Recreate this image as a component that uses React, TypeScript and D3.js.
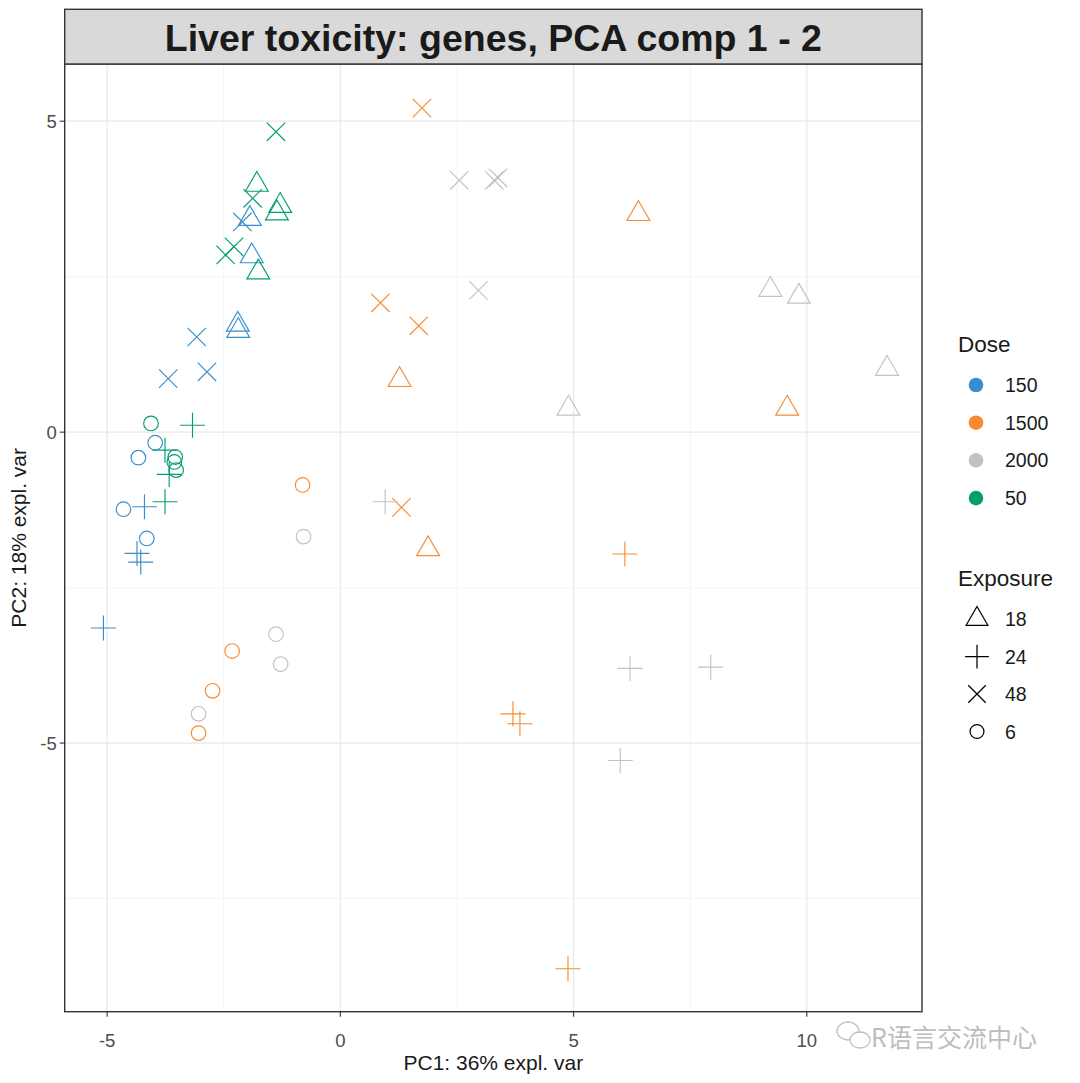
import React from "react";
import * as d3 from "d3";

// ---------- data ----------
const doseLevels = ["150", "1500", "2000", "50"];
const doseColors = ["#388ECC", "#F68B33", "#C2C2C2", "#009E73"];
const exposureLevels = ["18", "24", "48", "6"];

// each sample: [PC1, PC2]
const pc1_1500_18 = [6.39, 9.58, 1.27, 1.88];
const pc2_1500_18 = [3.51, 0.38, 0.84, -1.88];
const pc1_1500_24 = [6.1, 3.7, 3.85, 4.88];
const pc2_1500_24 = [-1.96, -4.53, -4.69, -8.63];
const pc1_1500_48 = [1.75, 0.86, 1.68, 1.31];
const pc2_1500_48 = [5.21, 2.08, 1.71, -1.21];
const pc1_1500_6 = [-0.81, -2.32, -2.74, -3.04];
const pc2_1500_6 = [-0.85, -3.52, -4.16, -4.84];

const pc1_2000_18 = [9.22, 9.83, 11.72, 4.89];
const pc2_2000_18 = [2.29, 2.18, 1.02, 0.38];
const pc1_2000_24 = [0.96, 6.21, 7.94, 6.0];
const pc2_2000_24 = [-1.12, -3.8, -3.78, -5.28];
const pc1_2000_48 = [2.55, 3.3, 3.38, 2.96];
const pc2_2000_48 = [4.05, 4.05, 4.09, 2.28];
const pc1_2000_6 = [-0.79, -1.38, -1.28, -3.04];
const pc2_2000_6 = [-1.68, -3.25, -3.73, -4.53];

const pc1_150_18 = [-2.2, -2.19, -1.9, -1.94];
const pc2_150_18 = [1.73, 1.63, 2.83, 3.43];
const pc1_150_24 = [-5.08, -4.36, -4.28, -4.2];
const pc2_150_24 = [-3.15, -1.95, -2.09, -1.2];
const pc1_150_48 = [-3.69, -3.08, -2.86, -2.1];
const pc2_150_48 = [0.86, 1.53, 0.97, 3.38];
const pc1_150_6 = [-4.65, -4.15, -4.33, -3.97];
const pc2_150_6 = [-1.24, -1.71, -0.41, -0.17];

const pc1_50_18 = [-1.79, -1.29, -1.36, -1.76];
const pc2_50_18 = [3.98, 3.64, 3.52, 2.57];
const pc1_50_24 = [-3.17, -3.76, -3.67, -3.76];
const pc2_50_24 = [0.11, -0.29, -0.68, -1.12];
const pc1_50_48 = [-1.38, -1.88, -2.28, -2.46];
const pc2_50_48 = [4.83, 3.76, 2.98, 2.85];
const pc1_50_6 = [-4.06, -3.54, -3.52, -3.56];
const pc2_50_6 = [0.14, -0.4, -0.61, -0.48];

const groups = [
  { dose: "1500", exposure: "18", x: pc1_1500_18, y: pc2_1500_18 },
  { dose: "1500", exposure: "24", x: pc1_1500_24, y: pc2_1500_24 },
  { dose: "1500", exposure: "48", x: pc1_1500_48, y: pc2_1500_48 },
  { dose: "1500", exposure: "6", x: pc1_1500_6, y: pc2_1500_6 },
  { dose: "2000", exposure: "18", x: pc1_2000_18, y: pc2_2000_18 },
  { dose: "2000", exposure: "24", x: pc1_2000_24, y: pc2_2000_24 },
  { dose: "2000", exposure: "48", x: pc1_2000_48, y: pc2_2000_48 },
  { dose: "2000", exposure: "6", x: pc1_2000_6, y: pc2_2000_6 },
  { dose: "150", exposure: "18", x: pc1_150_18, y: pc2_150_18 },
  { dose: "150", exposure: "24", x: pc1_150_24, y: pc2_150_24 },
  { dose: "150", exposure: "48", x: pc1_150_48, y: pc2_150_48 },
  { dose: "150", exposure: "6", x: pc1_150_6, y: pc2_150_6 },
  { dose: "50", exposure: "18", x: pc1_50_18, y: pc2_50_18 },
  { dose: "50", exposure: "24", x: pc1_50_24, y: pc2_50_24 },
  { dose: "50", exposure: "48", x: pc1_50_48, y: pc2_50_48 },
  { dose: "50", exposure: "6", x: pc1_50_6, y: pc2_50_6 },
];

const xTicks = [-5, 0, 5, 10];
const yTicks = [5, 0, -5];
const xMinor = [-2.5, 2.5, 7.5];
const yMinor = [2.5, -2.5, -7.5];

const title = "Liver toxicity: genes, PCA comp 1 - 2";
const xLabel = "PC1: 36% expl. var";
const yLabel = "PC2: 18% expl. var";
const watermark = "R语言交流中心";

// ---------- layout ----------
const W = 1080;
const H = 1083;
const panel = { left: 64.7, right: 922, top: 64, bottom: 1011.7 };
const stripTop = 9.3;
const FONT = "Liberation Sans, Arial, Helvetica, sans-serif";

const xScale = d3.scaleLinear().domain([-5.91, 12.47]).range([panel.left, panel.right]);
const yScale = d3.scaleLinear().domain([-9.32, 5.92]).range([panel.bottom, panel.top]);
const colorScale = d3.scaleOrdinal<string, string>().domain(doseLevels).range(doseColors);

function Marker({ shape, cx, cy, color, scale = 1, sw = 1.15 }: any) {
  if (shape === "18") {
    const r = 13.2 * scale;
    const pts = [
      [cx, cy - r],
      [cx + (r * Math.sqrt(3)) / 2, cy + r / 2],
      [cx - (r * Math.sqrt(3)) / 2, cy + r / 2],
    ];
    return <polygon points={pts.map((p) => p.join(",")).join(" ")} fill="none" stroke={color} strokeWidth={sw} />;
  }
  if (shape === "24") {
    const h = 12.5 * scale;
    return (
      <path d={`M${cx - h},${cy}H${cx + h}M${cx},${cy - h}V${cy + h}`} fill="none" stroke={color} strokeWidth={sw} />
    );
  }
  if (shape === "48") {
    const h = 9.2 * scale;
    return (
      <path
        d={`M${cx - h},${cy - h}L${cx + h},${cy + h}M${cx - h},${cy + h}L${cx + h},${cy - h}`}
        fill="none"
        stroke={color}
        strokeWidth={sw}
      />
    );
  }
  return <circle cx={cx} cy={cy} r={7.3 * scale} fill="none" stroke={color} strokeWidth={sw} />;
}

export default function App() {
  const points = groups.flatMap((g) =>
    g.x.map((v, i) => ({ dose: g.dose, exposure: g.exposure, x: v, y: g.y[i] }))
  );
  const pw = panel.right - panel.left;
  const ph = panel.bottom - panel.top;
  const cxMid = (panel.left + panel.right) / 2;

  return (
    <svg
      width={W}
      height={H}
      style={{ position: "absolute", left: 0, top: 0, background: "#fff" }}
      fontFamily={FONT}
    >
      <rect x={0} y={0} width={W} height={H} fill="#fff" />
      {/* panel grid */}
      <rect x={panel.left} y={panel.top} width={pw} height={ph} fill="#fff" />
      {xMinor.map((t) => (
        <line key={"xm" + t} x1={xScale(t)} x2={xScale(t)} y1={panel.top} y2={panel.bottom} stroke="#f2f2f2" strokeWidth={0.8} />
      ))}
      {yMinor.map((t) => (
        <line key={"ym" + t} x1={panel.left} x2={panel.right} y1={yScale(t)} y2={yScale(t)} stroke="#f2f2f2" strokeWidth={0.8} />
      ))}
      {xTicks.map((t) => (
        <line key={"xg" + t} x1={xScale(t)} x2={xScale(t)} y1={panel.top} y2={panel.bottom} stroke="#e8e8e8" strokeWidth={1.2} />
      ))}
      {yTicks.map((t) => (
        <line key={"yg" + t} x1={panel.left} x2={panel.right} y1={yScale(t)} y2={yScale(t)} stroke="#e8e8e8" strokeWidth={1.2} />
      ))}

      {/* points */}
      {points.map((p, i) => (
        <Marker key={i} shape={p.exposure} cx={xScale(p.x)} cy={yScale(p.y)} color={colorScale(p.dose)} />
      ))}

      {/* panel border */}
      <rect x={panel.left} y={panel.top} width={pw} height={ph} fill="none" stroke="#333" strokeWidth={1.4} />

      {/* strip */}
      <rect x={panel.left} y={stripTop} width={pw} height={panel.top - stripTop} fill="#d9d9d9" stroke="#333" strokeWidth={1.4} />
      <text x={cxMid} y={51} textAnchor="middle" fontSize={37.5} fontWeight="bold" fill="#1a1a1a">
        {title}
      </text>

      {/* axes ticks */}
      {xTicks.map((t) => (
        <g key={"xt" + t}>
          <line x1={xScale(t)} x2={xScale(t)} y1={panel.bottom} y2={panel.bottom + 5} stroke="#333" strokeWidth={1.1} />
          <text x={xScale(t)} y={panel.bottom + 35} textAnchor="middle" fontSize={18.5} fill="#4d4d4d">
            {t}
          </text>
        </g>
      ))}
      {yTicks.map((t) => (
        <g key={"yt" + t}>
          <line x1={panel.left - 5} x2={panel.left} y1={yScale(t)} y2={yScale(t)} stroke="#333" strokeWidth={1.1} />
          <text x={panel.left - 8} y={yScale(t) + 6.5} textAnchor="end" fontSize={18.5} fill="#4d4d4d">
            {t}
          </text>
        </g>
      ))}
      <text x={cxMid} y={1070} textAnchor="middle" fontSize={21} fill="#1a1a1a">
        {xLabel}
      </text>
      <text
        transform={`translate(26,${(panel.top + panel.bottom) / 2}) rotate(-90)`}
        textAnchor="middle"
        fontSize={21}
        fill="#1a1a1a"
      >
        {yLabel}
      </text>

      {/* legend: Dose */}
      <text x={958} y={352} fontSize={22.5} fill="#1a1a1a">
        Dose
      </text>
      {doseLevels.map((d, i) => (
        <g key={"ld" + d}>
          <circle cx={976} cy={385 + i * 37.7} r={7.3} fill={colorScale(d)} />
          <text x={1005} y={385 + i * 37.7 + 7} fontSize={19.5} fill="#1a1a1a">
            {d}
          </text>
        </g>
      ))}

      {/* legend: Exposure */}
      <text x={958} y={586} fontSize={22.5} fill="#1a1a1a">
        Exposure
      </text>
      {exposureLevels.map((e, i) => (
        <g key={"le" + e}>
          <Marker shape={e} cx={977} cy={619 + i * 37.5} color="#000" scale={0.95} sw={1.25} />
          <text x={1005} y={619 + i * 37.5 + 7} fontSize={19.5} fill="#1a1a1a">
            {e}
          </text>
        </g>
      ))}

      {/* watermark */}
      <g opacity={0.75}>
        <ellipse cx={848} cy={1031} rx={11} ry={9} fill="none" stroke="#aaa" strokeWidth={1.3} />
        <ellipse cx={860} cy={1040} rx={10} ry={8} fill="#fff" stroke="#aaa" strokeWidth={1.3} />
        <text x={871} y={1047} fontSize={25} fill="#a8a8a8" fontFamily="Noto Sans CJK SC, sans-serif">
          {watermark}
        </text>
      </g>
    </svg>
  );
}
